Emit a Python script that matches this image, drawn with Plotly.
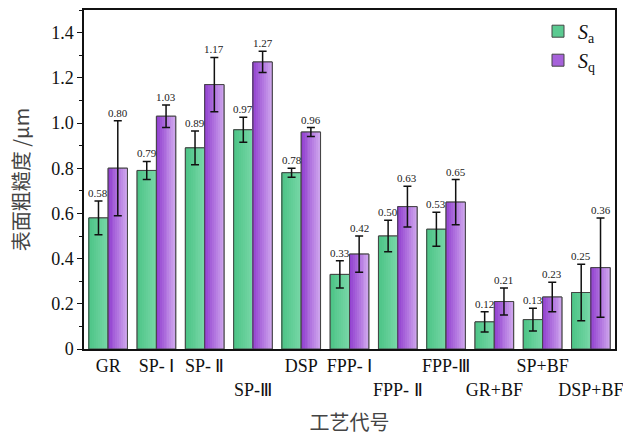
import plotly.graph_objects as go

categories = ["GR", "SP-Ⅰ", "SP-Ⅱ", "SP-Ⅲ", "DSP", "FPP-Ⅰ", "FPP-Ⅱ", "FPP-Ⅲ", "GR+BF", "SP+BF", "DSP+BF"]
tick_labels = ["GR", "SP- Ⅰ", "SP- Ⅱ", "<br>SP-Ⅲ", "DSP", "FPP- Ⅰ", "<br>FPP- Ⅱ", "FPP-Ⅲ", "<br>GR+BF", "SP+BF", "<br>DSP+BF"]
sa_values = [0.58, 0.79, 0.89, 0.97, 0.78, 0.33, 0.50, 0.53, 0.12, 0.13, 0.25]
sa_errors = [0.075, 0.04, 0.075, 0.055, 0.02, 0.06, 0.07, 0.075, 0.045, 0.05, 0.125]
sq_values = [0.80, 1.03, 1.17, 1.27, 0.96, 0.42, 0.63, 0.65, 0.21, 0.23, 0.36]
sq_errors = [0.21, 0.05, 0.12, 0.047, 0.02, 0.08, 0.09, 0.10, 0.06, 0.065, 0.22]
y_tick_vals = [0, 0.2, 0.4, 0.6, 0.8, 1.0, 1.2, 1.4]
y_tick_text = ["0", "0.2", "0.4", "0.6", "0.8", "1.0", "1.2", "1.4"]

BW = 0.4
NS = 10
SERIF = "Liberation Serif, Times New Roman, serif"


def lerp(c1, c2, t):
    return "rgb(%d,%d,%d)" % tuple(round(a + (b - a) * t) for a, b in zip(c1, c2))


series = [
    ("<i>S</i><sub>a</sub>", sa_values, sa_errors, -BW, (76, 196, 134), (118, 214, 166)),
    ("<i>S</i><sub>q</sub>", sq_values, sq_errors, 0.0, (146, 64, 208), (204, 162, 236)),
]

fig = go.Figure()
for name, vals, errs, off, c1, c2 in series:
    # base full bar for legend
    fig.add_trace(go.Bar(
        x=categories, y=vals, name=name, offset=off, width=BW,
        marker=dict(color=lerp(c1, c2, 0.35), line=dict(color="#444", width=1)),
        showlegend=True, hoverinfo="skip",
    ))
    # gradient slices
    w = BW / NS
    for i in range(NS):
        fig.add_trace(go.Bar(
            x=categories, y=vals, offset=off + i * w, width=w * 1.02,
            marker=dict(color=lerp(c1, c2, i / (NS - 1)), line=dict(width=0)),
            showlegend=False, hoverinfo="skip",
        ))
    # outline with error bars
    fig.add_trace(go.Bar(
        x=categories, y=vals, offset=off, width=BW,
        marker=dict(color="rgba(0,0,0,0)", line=dict(color="#444", width=1)),
        error_y=dict(type="data", array=errs, visible=True, color="#111", thickness=1.5, width=4),
        showlegend=False,
    ))

annotations = []
for name, vals, errs, off, c1, c2 in series:
    for ci, (v, e) in enumerate(zip(vals, errs)):
        annotations.append(dict(
            x=ci + off + BW / 2, y=v + e, xref="x", yref="y",
            text="%.2f" % v, showarrow=False, yanchor="bottom", yshift=0,
            font=dict(family=SERIF, size=11, color="#222"),
        ))

fig.update_layout(
    width=623, height=436,
    margin=dict(l=84, r=0, t=10, b=87),
    plot_bgcolor="white", paper_bgcolor="white",
    barmode="overlay",
    showlegend=True,
    legend=dict(
        x=0.855, y=0.995, xanchor="left", yanchor="top",
        font=dict(family=SERIF, size=20, color="#111"),
        bgcolor="rgba(0,0,0,0)", tracegroupgap=0,
    ),
    annotations=annotations,
    xaxis=dict(
        type="category",
        range=[-0.5, 10.5],
        tickmode="array", tickvals=list(range(len(categories))), ticktext=tick_labels,
        tickangle=0,
        showline=True, linecolor="#111", linewidth=1.5, mirror=True,
        ticks="", showgrid=False,
        tickfont=dict(family=SERIF, size=18, color="#111"),
        title=dict(text="工艺代号", font=dict(family="Noto Sans CJK SC", size=20, color="#444"), standoff=21),
    ),
    yaxis=dict(
        range=[0, 1.5],
        tickmode="array", tickvals=y_tick_vals, ticktext=y_tick_text,
        showline=True, linecolor="#111", linewidth=1.5, mirror=True,
        ticks="outside", ticklen=5, tickwidth=1.2, tickcolor="#111",
        minor=dict(dtick=0.1, ticks="outside", ticklen=3, tickwidth=1, tickcolor="#111", showgrid=False),
        showgrid=False, zeroline=False,
        tickfont=dict(family=SERIF, size=18, color="#111"),
        title=dict(text="表面粗糙度 /μm", font=dict(family="Noto Sans CJK SC", size=20, color="#444"), standoff=16),
    ),
)

fig.write_html("out.html")
